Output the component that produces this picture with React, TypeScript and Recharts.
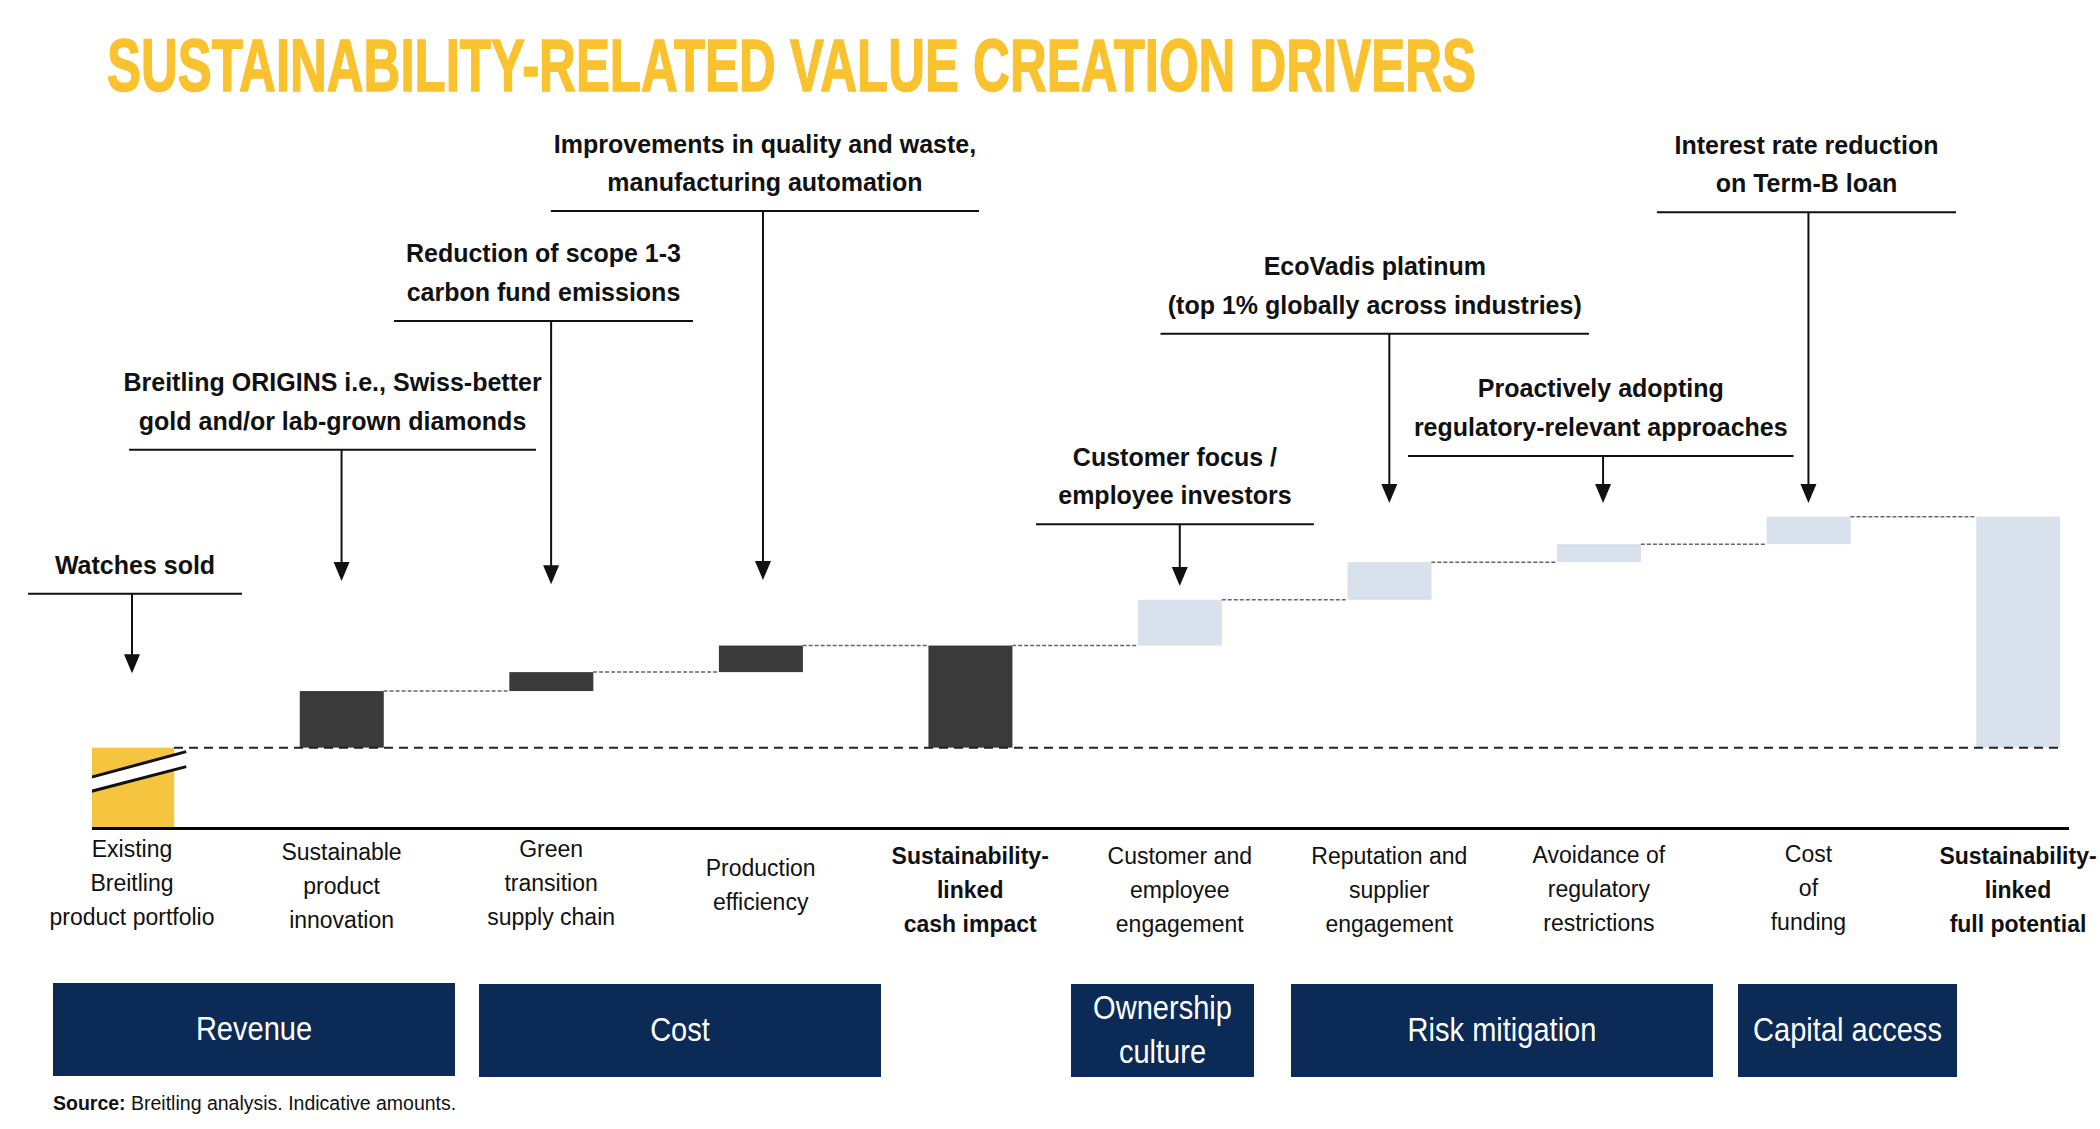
import React from 'react';
import { BarChart, Bar, XAxis, YAxis, ReferenceLine } from 'recharts';

// ---------- data ----------
const CATEGORY_LINES: string[][] = [
  ['Existing', 'Breitling', 'product portfolio'],
  ['Sustainable', 'product', 'innovation'],
  ['Green', 'transition', 'supply chain'],
  ['Production', 'efficiency'],
  ['Sustainability-', 'linked', 'cash impact'],
  ['Customer and', 'employee', 'engagement'],
  ['Reputation and', 'supplier', 'engagement'],
  ['Avoidance of', 'regulatory', 'restrictions'],
  ['Cost', 'of', 'funding'],
  ['Sustainability-', 'linked', 'full potential'],
];
const KINDS = ['start', 'step', 'step', 'step', 'total', 'step', 'step', 'step', 'step', 'total'];
// indicative amounts (start bar is broken / shown below the baseline)
const STEP_VALUES = [35, 24.5, 8.2, 11.5, 0, 19.8, 16.3, 7.8, 11.9, 0];

const ANNOTATION_CATS = [0, 1, 2, 3, 5, 6, 7, 8];
const ANNOTATION_TEXTS: string[][] = [
  ['Watches sold'],
  ['Breitling ORIGINS i.e., Swiss-better', 'gold and/or lab-grown diamonds'],
  ['Reduction of scope 1-3', 'carbon fund emissions'],
  ['Improvements in quality and waste,', 'manufacturing automation'],
  ['Customer focus /', 'employee investors'],
  ['EcoVadis platinum', '(top 1% globally across industries)'],
  ['Proactively adopting', 'regulatory-relevant approaches'],
  ['Interest rate reduction', 'on Term-B loan'],
];
const GROUP_LABELS: string[][] = [['Revenue'], ['Cost'], ['Ownership', 'culture'], ['Risk mitigation'], ['Capital access']];
const TITLE = 'SUSTAINABILITY-RELATED VALUE CREATION DRIVERS';

// ---------- styles / layout ----------
const BAR_COLORS = ['#F5C53F', '#3A3A3A', '#3A3A3A', '#3A3A3A', '#3A3A3A', '#D9E1EC', '#D9E1EC', '#D9E1EC', '#D9E1EC', '#D9E1EC'];
// annotation underline span (x, axis units), arrow x nudge, underline level and arrow tip (y, value units)
const ANN_LAYOUT = [
  { l: -0.496, r: 0.525, ax: 0, level: 66.6, tip: 32.2 },
  { l: -0.014, r: 1.928, ax: 0, level: 129.0, tip: 72.1 },
  { l: 1.25, r: 2.677, ax: 0, level: 184.7, tip: 70.7 },
  { l: 1.999, r: 4.042, ax: 0.011, level: 232.3, tip: 72.6 },
  { l: 4.314, r: 5.64, ax: 0, level: 96.7, tip: 70.0 },
  { l: 4.908, r: 6.953, ax: 0, level: 179.2, tip: 105.9 },
  { l: 6.089, r: 7.929, ax: 0.02, level: 126.3, tip: 105.9 },
  { l: 7.277, r: 8.704, ax: 0, level: 231.8, tip: 105.9 },
];
const TICK_FIRST_BASELINE = [28, 31, 28, 47, 35, 35, 35, 34, 33, 35];
const TICK_LINE_PITCH = 34;
const GROUP_BOXES = [
  { x: 53, y: 983, w: 402, h: 93 },
  { x: 479, y: 984, w: 402, h: 93 },
  { x: 1071, y: 984, w: 183, h: 93 },
  { x: 1291, y: 984, w: 422, h: 93 },
  { x: 1738, y: 984, w: 219, h: 93 },
];
const FONT = '"Liberation Sans", Arial, sans-serif';
const HALF_BAR = 0.2004;
const X_DOMAIN: [number, number] = [-0.1909, 9.2434];
const TITLE_X = 107;
const TITLE_WIDTH = 1369;
const TITLE_SQUEEZE = 0.6707;

// ---------- derived rows ----------
type Row = { x: number; range: [number, number]; kind: string; color: string };
const rows: Row[] = [];
{
  let level = 0;
  CATEGORY_LINES.forEach((_, i) => {
    const kind = KINDS[i];
    let range: [number, number];
    if (kind === 'start') {
      range = [-STEP_VALUES[i], 0];
      level = 0;
    } else if (kind === 'total') {
      range = [0, level];
    } else {
      range = [level, level + STEP_VALUES[i]];
      level += STEP_VALUES[i];
    }
    rows.push({ x: i, range, kind, color: BAR_COLORS[i] });
  });
}

const BarShape = (p: any) => {
  const { x, y, width, height, payload } = p;
  if (x == null || y == null) return null;
  const top = Math.min(y, y + height);
  const h = Math.abs(height);
  const fill = payload?.color ?? '#333';
  if (payload?.kind === 'start') {
    const a = x - 12;
    const b = x + width + 12;
    return (
      <g>
        <rect x={x} y={top} width={width} height={h} fill={fill} />
        <polygon points={`${a},${top + 33} ${b},${top + 4} ${b},${top + 19} ${a},${top + 47}`} fill="#fff" />
        <line x1={a} y1={top + 33} x2={b} y2={top + 4} stroke="#111" strokeWidth={3} />
        <line x1={a} y1={top + 47} x2={b} y2={top + 19} stroke="#111" strokeWidth={3} />
      </g>
    );
  }
  return <rect x={x} y={top} width={width} height={h} fill={fill} />;
};

const CategoryTick = (p: any) => {
  const { x, y, payload } = p;
  const i = Math.round(payload.value);
  const lines = CATEGORY_LINES[i];
  if (!lines) return null;
  const bold = KINDS[i] === 'total';
  return (
    <text textAnchor="middle" fontFamily={FONT} fontSize={23} fontWeight={bold ? 700 : 400} fill="#111">
      {lines.map((l, k) => (
        <tspan key={k} x={x} y={y + TICK_FIRST_BASELINE[i] + k * TICK_LINE_PITCH}>
          {l}
        </tspan>
      ))}
    </text>
  );
};

const AnnLabel = (p: any) => {
  const { viewBox, lines } = p;
  if (!viewBox) return null;
  const cx = viewBox.x + viewBox.width / 2;
  const base = viewBox.y - 20;
  const n = lines.length;
  return (
    <text textAnchor="middle" fontFamily={FONT} fontWeight={700} fontSize={25} fill="#111">
      {lines.map((l: string, k: number) => (
        <tspan key={k} x={cx} y={base - (n - 1 - k) * 38.5}>
          {l}
        </tspan>
      ))}
    </text>
  );
};

const ArrowShape = (p: any) => {
  const { x1, y1, y2 } = p;
  if (x1 == null) return null;
  const top = Math.min(y1, y2);
  const tip = Math.max(y1, y2);
  return (
    <g>
      <line x1={x1} x2={x1} y1={top} y2={tip - 14} stroke="#111" strokeWidth={2} />
      <polygon points={`${x1 - 8},${tip - 19} ${x1 + 8},${tip - 19} ${x1},${tip}`} fill="#111" />
    </g>
  );
};

export default function App() {
  const connectors = rows.slice(1, rows.length - 1).map((r, k) => ({ from: r.x, level: r.range[1], key: k }));
  return (
    <div style={{ position: 'absolute', left: 0, top: 0, width: 2100, height: 1129, background: '#fff', overflow: 'hidden' }}>
      <BarChart width={2100} height={1129} data={rows} margin={{ top: 135.5, right: 31, bottom: 180.5, left: 92 }}>
        <XAxis
          type="number"
          dataKey="x"
          domain={X_DOMAIN}
          ticks={[0, 1, 2, 3, 4, 5, 6, 7, 8, 9]}
          interval={0}
          allowDataOverflow
          tickLine={false}
          tickSize={0}
          tickMargin={0}
          axisLine={{ stroke: '#000', strokeWidth: 3 }}
          tick={<CategoryTick />}
          height={120}
        />
        <YAxis hide type="number" domain={[-35, 265]} allowDataOverflow />
        <ReferenceLine
          segment={[{ x: HALF_BAR, y: 0 }, { x: 9 + HALF_BAR, y: 0 }]}
          stroke="#222"
          strokeWidth={2}
          strokeDasharray="9 6"
          ifOverflow="visible"
        />
        {connectors.map((c) => (
          <ReferenceLine
            key={'c' + c.key}
            segment={[{ x: c.from + HALF_BAR, y: c.level }, { x: c.from + 1 - HALF_BAR, y: c.level }]}
            stroke="#666"
            strokeWidth={1.5}
            strokeDasharray="4 2"
            ifOverflow="visible"
          />
        ))}
        <Bar dataKey="range" barSize={84} isAnimationActive={false} shape={<BarShape />} />
        {ANNOTATION_CATS.map((cat, k) => {
          const L = ANN_LAYOUT[k];
          return (
            <ReferenceLine
              key={'h' + k}
              segment={[{ x: L.l, y: L.level }, { x: L.r, y: L.level }]}
              stroke="#111"
              strokeWidth={2}
              ifOverflow="visible"
              label={<AnnLabel lines={ANNOTATION_TEXTS[k]} />}
            />
          );
        })}
        {ANNOTATION_CATS.map((cat, k) => {
          const L = ANN_LAYOUT[k];
          return (
            <ReferenceLine
              key={'a' + k}
              segment={[{ x: cat + L.ax, y: L.level }, { x: cat + L.ax, y: L.tip }]}
              ifOverflow="visible"
              shape={(sp: any) => <ArrowShape {...sp} />}
            />
          );
        })}
      </BarChart>
      <svg width={2100} height={1129} style={{ position: 'absolute', left: 0, top: 0, pointerEvents: 'none' }}>
        <g transform={`translate(${TITLE_X},0) scale(${TITLE_SQUEEZE},1)`}>
          <text
            x={0}
            y={91}
            fontFamily={FONT}
            fontWeight={700}
            fontSize={75}
            fill="#F9C22E"
            stroke="#F9C22E"
            strokeWidth={1.5}
            textLength={TITLE_WIDTH / TITLE_SQUEEZE}
            lengthAdjust="spacingAndGlyphs"
          >
            {TITLE}
          </text>
        </g>
        {GROUP_BOXES.map((b, k) => {
          const lines = GROUP_LABELS[k];
          const cx = b.x + b.w / 2;
          const cy = b.y + b.h / 2;
          return (
            <g key={k}>
              <rect x={b.x} y={b.y} width={b.w} height={b.h} fill="#0B2A55" />
              <g transform={`translate(${cx},0) scale(0.88,1)`}>
                <text textAnchor="middle" fontFamily={FONT} fontSize={33} fill="#fff">
                  {lines.map((l, i) => (
                    <tspan key={i} x={0} y={cy + 11 + (i - (lines.length - 1) / 2) * 44}>
                      {l}
                    </tspan>
                  ))}
                </text>
              </g>
            </g>
          );
        })}
        <text x={53} y={1110} fontFamily={FONT} fontSize={19.5} fill="#111">
          <tspan fontWeight={700}>Source:</tspan>
          <tspan> Breitling analysis. Indicative amounts.</tspan>
        </text>
      </svg>
    </div>
  );
}
